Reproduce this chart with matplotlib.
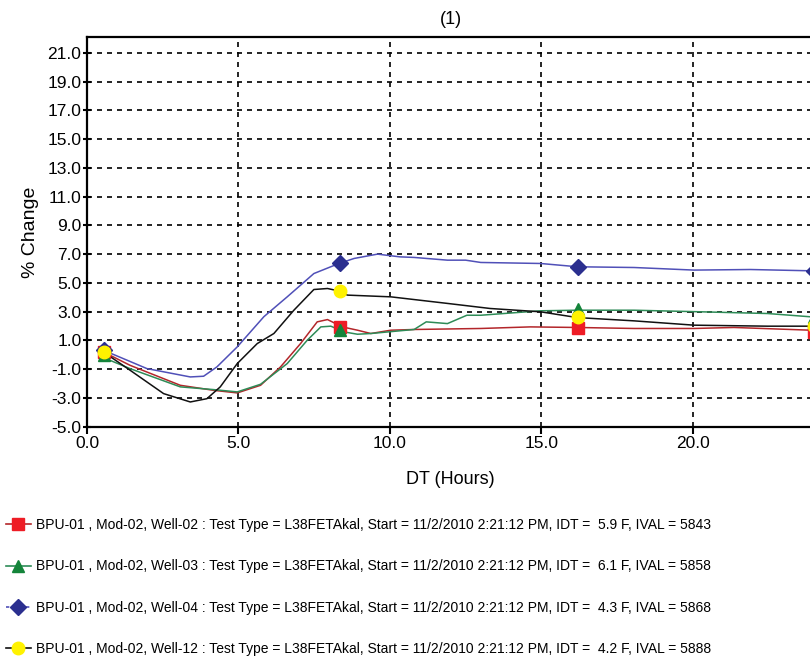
import matplotlib
matplotlib.use("Agg")
import matplotlib.pyplot as plt
from matplotlib.lines import Line2D

plt.rcParams['font.family'] = ['Liberation Sans', 'DejaVu Sans']

# ---- data ----
red_x = [0.54, 1.42, 3.08, 4.18, 4.96, 5.73, 6.39, 7.05, 7.6, 7.94, 8.43, 8.93, 9.37, 10.03, 10.8, 13.0, 14.63, 16.18, 18.06, 20.04, 21.36, 23.9]
red_y = [0.2, -0.73, -2.12, -2.47, -2.65, -2.12, -0.84, 0.78, 2.29, 2.45, 1.94, 1.71, 1.48, 1.71, 1.76, 1.83, 1.94, 1.9, 1.83, 1.83, 1.9, 1.71]

green_x = [0.49, 1.42, 3.08, 4.18, 4.96, 5.73, 6.61, 7.27, 7.72, 8.05, 8.49, 8.93, 9.37, 10.8, 11.2, 11.9, 12.54, 13.0, 14.97, 16.18, 18.06, 20.26, 22.47, 23.9]
green_y = [-0.15, -0.96, -2.23, -2.42, -2.58, -2.05, -0.61, 1.01, 1.94, 1.99, 1.59, 1.43, 1.48, 1.76, 2.29, 2.17, 2.75, 2.75, 3.06, 3.1, 3.1, 2.99, 2.87, 2.64]

blue_x = [0.54, 1.98, 3.41, 3.85, 4.29, 4.96, 5.84, 6.61, 7.49, 8.32, 8.82, 9.59, 10.33, 10.8, 11.9, 12.5, 13.0, 14.97, 16.2, 18.06, 20.04, 21.9, 23.9]
blue_y = [0.32, -0.96, -1.54, -1.49, -0.84, 0.55, 2.65, 4.03, 5.65, 6.35, 6.70, 7.0, 6.81, 6.77, 6.58, 6.58, 6.42, 6.35, 6.12, 6.07, 5.89, 5.93, 5.84]

black_x = [0.54, 1.42, 2.53, 3.41, 3.96, 4.40, 4.96, 5.62, 6.17, 6.83, 7.49, 7.94, 8.29, 8.60, 10.03, 11.91, 13.31, 14.97, 16.18, 18.06, 20.04, 22.47, 23.9]
black_y = [0.2, -1.07, -2.70, -3.28, -3.05, -2.23, -0.61, 0.78, 1.48, 3.10, 4.54, 4.61, 4.45, 4.15, 4.03, 3.57, 3.22, 2.99, 2.59, 2.36, 2.06, 1.99, 1.99]

marker_x = [0.55, 8.35, 16.2, 24.0]
red_my = [0.2, 1.9, 1.85, 1.6]
green_my = [0.0, 1.7, 3.2, 2.6]
blue_my = [0.3, 6.35, 6.1, 5.85]
yellow_my = [0.2, 4.45, 2.6, 2.0]

labels = [
    "BPU-01 , Mod-02, Well-02 : Test Type = L38FETAkal, Start = 11/2/2010 2:21:12 PM, IDT =  5.9 F, IVAL = 5843",
    "BPU-01 , Mod-02, Well-03 : Test Type = L38FETAkal, Start = 11/2/2010 2:21:12 PM, IDT =  6.1 F, IVAL = 5858",
    "BPU-01 , Mod-02, Well-04 : Test Type = L38FETAkal, Start = 11/2/2010 2:21:12 PM, IDT =  4.3 F, IVAL = 5868",
    "BPU-01 , Mod-02, Well-12 : Test Type = L38FETAkal, Start = 11/2/2010 2:21:12 PM, IDT =  4.2 F, IVAL = 5888",
]
xticks = [0, 5, 10, 15, 20]
yticks = [-5, -3, -1, 1, 3, 5, 7, 9, 11, 13, 15, 17, 19, 21]

# ---- figure ----
fig = plt.figure(figsize=(8.10, 6.59), dpi=100)
ax = fig.add_axes([0.1074, 0.3525, 0.8975, 0.5914])

c_red_line, c_red_mk = "#b3262a", "#ee1c25"
c_green_line, c_green_mk = "#2e8b57", "#14843a"
c_blue_line, c_blue_mk = "#5050b8", "#2b2f8f"
c_black_line, c_yellow_mk = "#111111", "#fff200"

ax.plot(red_x, red_y, color=c_red_line, lw=1.1, zorder=3)
ax.plot(green_x, green_y, color=c_green_line, lw=1.1, zorder=3)
ax.plot(blue_x, blue_y, color=c_blue_line, lw=1.1, zorder=3)
ax.plot(black_x, black_y, color=c_black_line, lw=1.1, zorder=3)

ax.plot(marker_x, red_my, ls='none', marker='s', ms=9, color=c_red_mk, zorder=4)
ax.plot(marker_x, green_my, ls='none', marker='^', ms=9, color=c_green_mk, zorder=4)
ax.plot(marker_x, blue_my, ls='none', marker='D', ms=8, color=c_blue_mk, zorder=4)
ax.plot(marker_x, yellow_my, ls='none', marker='o', ms=9, color=c_yellow_mk, zorder=5)

ax.set_xlim(0, 24)
ax.set_ylim(-5, 22.1)
ax.set_xticks(xticks)
ax.set_xticklabels([f"{v:.1f}" for v in xticks], fontsize=12.5)
ax.set_yticks(yticks)
ax.set_yticklabels([f"{v:.1f}" for v in yticks], fontsize=12.5)
ax.grid(True, color='black', ls=(0, (3, 3)), lw=1.2)
ax.set_axisbelow(True)
for s in ['left', 'bottom', 'top']:
    ax.spines[s].set_linewidth(1.6)
    ax.spines[s].set_color('black')
ax.spines['right'].set_visible(False)
ax.tick_params(axis='y', direction='inout', length=6, width=1.5, pad=1)
ax.tick_params(axis='x', direction='out', length=5, width=1.5, pad=2)

ax.set_title("(1)", fontsize=13, pad=9)
ax.set_xlabel("DT (Hours)", fontsize=13, labelpad=14)
ax.set_ylabel("% Change", fontsize=14, labelpad=6)

handles = [
    Line2D([], [], color=c_red_line, lw=1.2, marker='s', ms=9, mfc=c_red_mk, mec=c_red_mk),
    Line2D([], [], color=c_green_line, lw=1.2, marker='^', ms=9, mfc=c_green_mk, mec=c_green_mk),
    Line2D([], [], color=c_blue_line, lw=1.2, ls=(0, (2, 2)), marker='D', ms=8, mfc=c_blue_mk, mec=c_blue_mk),
    Line2D([], [], color=c_black_line, lw=1.2, marker='o', ms=9, mfc=c_yellow_mk, mec=c_yellow_mk),
]
leg_fp = {'family': ['Liberation Sans', 'DejaVu Sans'], 'size': 10}
fig.legend(handles, labels, loc='upper left', bbox_to_anchor=(0.0, 0.222),
           frameon=False, prop=leg_fp, handlelength=1.8, handletextpad=0.4,
           labelspacing=1.96, borderaxespad=0.0)

fig.savefig("out.png", dpi=100)
